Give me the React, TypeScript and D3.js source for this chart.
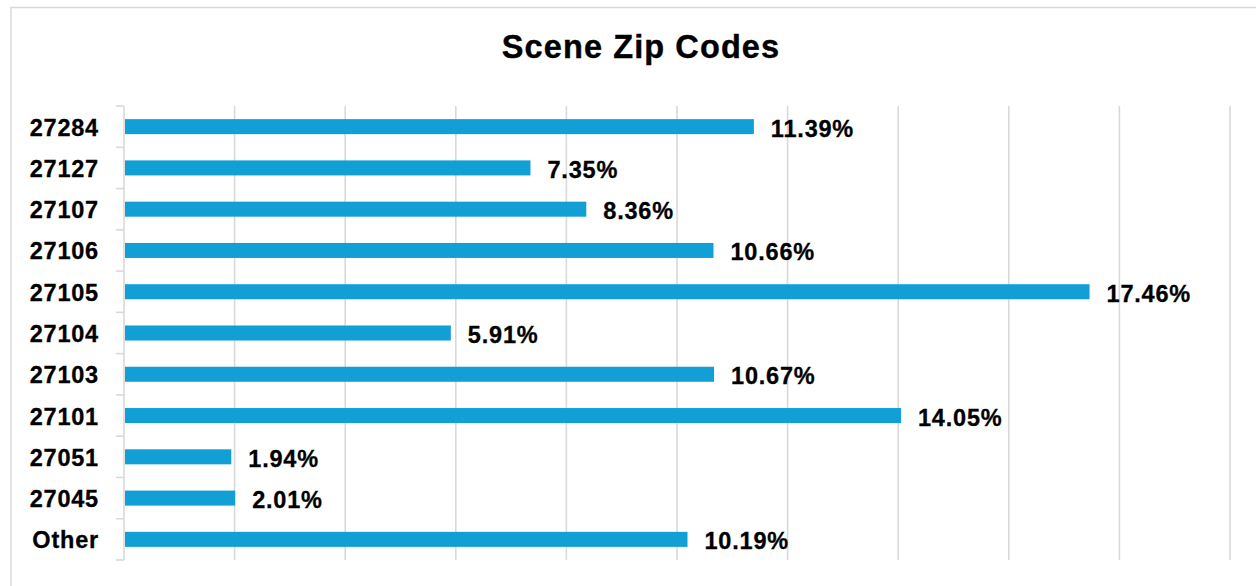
import React from "react";
import * as d3 from "d3";

const categories = ["27284", "27127", "27107", "27106", "27105", "27104", "27103", "27101", "27051", "27045", "Other"];
const values = [11.39, 7.35, 8.36, 10.66, 17.46, 5.91, 10.67, 14.05, 1.94, 2.01, 10.19];
const xTicks = [0, 2, 4, 6, 8, 10, 12, 14, 16, 18, 20];
const title = "Scene Zip Codes";

const W = 1256;
const H = 586;
const left = 124;
const right = 1230;
const top = 106;
const bottom = 560;
const font = "'Liberation Sans', Arial, sans-serif";
const barColor = "#129fd6";
const gridColor = "#d9d9d9";

export default function App() {
  const x = d3.scaleLinear().domain([0, 20]).range([left, right]);
  const y = d3.scaleBand<string>().domain(categories).range([top, bottom]).paddingInner(0.636).paddingOuter(0.318);
  const step = y.step();
  const boundaries = d3.range(categories.length + 1).map((i) => top + i * step);
  return (
    <svg width={W} height={H} style={{ position: "absolute", left: 0, top: 0, background: "#fff" }}>
      <rect x={11} y={7.5} width={1270} height={600} fill="#fff" stroke={gridColor} strokeWidth={1.5} />
      <text x={641} y={57.5} textAnchor="middle" fontFamily={font} fontWeight="bold" fontSize={32.5} letterSpacing={1.1} fill="#000" stroke="#000" strokeWidth={0.4}>
        {title}
      </text>
      {xTicks.map((t) => (
        <line key={t} x1={x(t)} x2={x(t)} y1={top} y2={bottom} stroke={gridColor} strokeWidth={1.6} />
      ))}
      {boundaries.map((b, i) => (
        <line key={i} x1={116} x2={left} y1={b} y2={b} stroke={gridColor} strokeWidth={1.6} />
      ))}
      {categories.map((c, i) => {
        const yc = (y(c) as number) + y.bandwidth() / 2;
        return (
          <g key={c}>
            <rect x={x(0) + 1} y={y(c)} width={x(values[i]) - x(0) - 1} height={y.bandwidth()} fill={barColor} />
            <text x={99} y={yc + 1} textAnchor="end" dominantBaseline="central" fontFamily={font} fontWeight="bold" fontSize={23.5} letterSpacing={0.8} fill="#000" stroke="#000" strokeWidth={0.3}>
              {c}
            </text>
            <text x={x(values[i]) + 17} y={yc + 2} dominantBaseline="central" fontFamily={font} fontWeight="bold" fontSize={23.5} letterSpacing={0.8} fill="#000" stroke="#000" strokeWidth={0.3}>
              {values[i].toFixed(2) + "%"}
            </text>
          </g>
        );
      })}
    </svg>
  );
}
